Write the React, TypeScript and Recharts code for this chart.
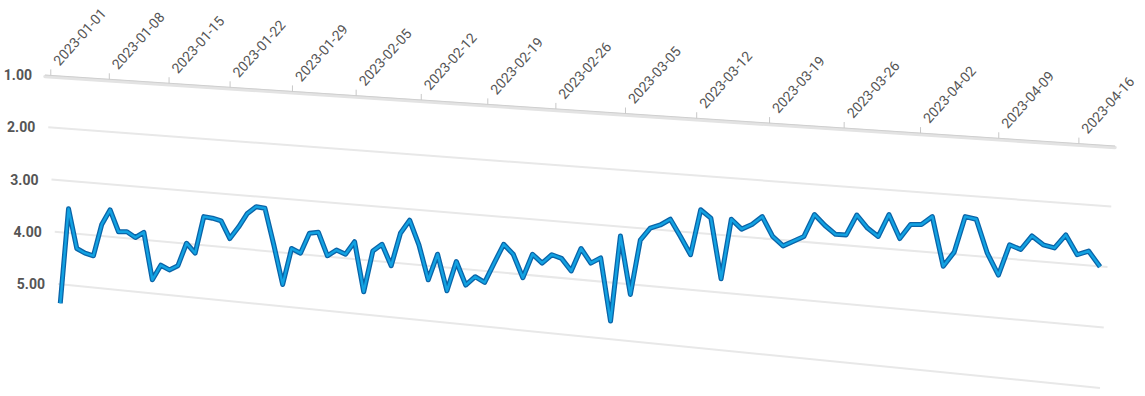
import React from 'react';
import { LineChart, Line, XAxis, YAxis, CartesianGrid } from 'recharts';

// ---------------- data ----------------
const START_DATE = '2023-01-01';
const values: number[] = [
  5.37, 3.56, 4.32, 4.41, 4.46, 3.86, 3.58, 4.0, 4.0, 4.11,
  4.01, 4.92, 4.64, 4.73, 4.65, 4.22, 4.41, 3.71, 3.74, 3.79,
  4.13, 3.91, 3.65, 3.52, 3.55, 4.25, 5.01, 4.32, 4.41, 4.03,
  4.01, 4.46, 4.35, 4.43, 4.19, 5.15, 4.37, 4.24, 4.65, 4.03,
  3.78, 4.25, 4.92, 4.43, 5.13, 4.57, 5.02, 4.86, 4.97, 4.6,
  4.24, 4.43, 4.88, 4.43, 4.6, 4.44, 4.51, 4.75, 4.32, 4.6,
  4.5, 5.71, 4.08, 5.2, 4.16, 3.93, 3.87, 3.76, 4.09, 4.44,
  3.58, 3.74, 4.9, 3.76, 3.95, 3.86, 3.71, 4.09, 4.27, 4.18,
  4.09, 3.67, 3.88, 4.05, 4.06, 3.68, 3.93, 4.09, 3.67, 4.13,
  3.86, 3.86, 3.71, 4.66, 4.39, 3.71, 3.76, 4.41, 4.83, 4.25,
  4.34, 4.08, 4.25, 4.31, 4.06, 4.44, 4.37, 4.67,
];
const tickDates: string[] = [
  '2023-01-01', '2023-01-08', '2023-01-15', '2023-01-22', '2023-01-29',
  '2023-02-05', '2023-02-12', '2023-02-19', '2023-02-26', '2023-03-05',
  '2023-03-12', '2023-03-19', '2023-03-26', '2023-04-02', '2023-04-09',
  '2023-04-16',
];
const yTicks: number[] = [1, 2, 3, 4, 5];

const DAY_MS = 86400000;
const startMs = Date.parse(START_DATE);
const fmt = (day: number) => new Date(startMs + day * DAY_MS).toISOString().slice(0, 10);
const toDay = (d: string) => Math.round((Date.parse(d) - startMs) / DAY_MS);
const dates = values.map((_, i) => fmt(i));
const data = dates.map((d, i) => ({ date: d, day: toDay(d), v: values[i] }));
const tickDays = tickDates.map(toDay);

// ---------------- layout ----------------
const W = 1145;
const H = 396;
const PLOT_L = 45;
const PLOT_R = 1115;
const PLOT_T = 75;
const PLANE_H = 209; // pixel height of the value 1..5 band on the left edge
// perspective of the floor plane (grid rows)
const DROP = 71; // right end of the top row sits this much lower
const RS = 242 / PLANE_H; // vertical stretch on the right edge
const LX = 13 / PLANE_H; // left edge slant
const RX = -15 / PLANE_H; // right edge slant

// perspective (linear fractional) scale usable as a Recharts custom scale
function perspScale(c: number): any {
  let dom: number[] = [0, 1];
  let rng: number[] = [0, 1];
  const s: any = (v: number) => {
    const u = (Number(v) - dom[0]) / (dom[1] - dom[0]);
    const f = u / (1 + c * (1 - u));
    return rng[0] + (rng[1] - rng[0]) * f;
  };
  s.domain = (d?: any) => {
    if (d === undefined) return dom.slice();
    dom = [Number(d[0]), Number(d[d.length - 1])];
    return s;
  };
  s.range = (r?: any) => {
    if (r === undefined) return rng.slice();
    rng = [Number(r[0]), Number(r[r.length - 1])];
    return s;
  };
  s.invert = (x: number) => {
    const f = (x - rng[0]) / (rng[1] - rng[0]);
    const u = (f * (1 + c)) / (1 + c * f);
    return dom[0] + u * (dom[1] - dom[0]);
  };
  s.ticks = (n = 10) => {
    const out: number[] = [];
    const step = (dom[1] - dom[0]) / n;
    for (let i = 0; i <= n; i++) out.push(dom[0] + i * step);
    return out;
  };
  s.tickFormat = () => (v: any) => String(v);
  s.nice = () => s;
  s.clamp = () => s;
  s.copy = () => perspScale(c).domain(dom).range(rng);
  return s;
}

const dataScale = perspScale(0.1855);
const tickScale = perspScale(0.1911);

const topRowY = (x: number) => PLOT_T + (DROP * (x - PLOT_L)) / (PLOT_R - PLOT_L);

const renderRow = (p: any) => {
  const t = p.y1 - PLOT_T;
  if (t > PLANE_H + 1 || t < -1) return <g key={p.key} />;
  const x1 = p.x1 + LX * t;
  const y1 = p.y1;
  const x2 = p.x2 + RX * t;
  const y2 = PLOT_T + DROP + RS * t;
  if (Math.abs(t) < 0.5) {
    return (
      <g key={p.key}>
        <line x1={x1} y1={y1 + 1.5} x2={x2} y2={y2 + 1.5} stroke="#e3e3e3" strokeWidth={3.5} strokeLinecap="round" />
        <line x1={x1} y1={y1} x2={x2} y2={y2} stroke="#cfcfcf" strokeWidth={1} />
      </g>
    );
  }
  return <line key={p.key} x1={x1} y1={y1} x2={x2} y2={y2} stroke="#e8e8e8" strokeWidth={2} />;
};

const XTick = (props: any) => {
  const { x, payload } = props;
  const ry = topRowY(x);
  const tx = x + 9;
  const ty = ry - 9;
  return (
    <g>
      <line x1={x} y1={ry - 6} x2={x} y2={ry} stroke="#c8c8c8" strokeWidth={1} />
      <text
        x={tx}
        y={ty}
        transform={`rotate(-48, ${tx}, ${ty})`}
        textAnchor="start"
        fill="#555"
        fontSize={14}
        fontWeight={400}
        fontFamily="Roboto, sans-serif"
      >
        {fmt(payload.value)}
      </text>
    </g>
  );
};

const YTick = (props: any) => {
  const { y, payload } = props;
  const t = y - PLOT_T;
  const xl = PLOT_L + LX * t;
  return (
    <text
      x={xl - 13}
      y={y + 5}
      textAnchor="end"
      fill="#555"
      fontSize={14}
      fontWeight={700}
      fontFamily="Roboto, sans-serif"
    >
      {Number(payload.value).toFixed(2)}
    </text>
  );
};

export default function App() {
  return (
    <div style={{ position: 'absolute', left: 0, top: 0, width: W, height: H, background: '#fff' }}>
      <LineChart
        width={W}
        height={H}
        data={data}
        margin={{ top: 45, right: W - PLOT_R, bottom: 59.75, left: 0 }}
      >
        <CartesianGrid vertical={false} horizontal={renderRow} horizontalValues={yTicks} xAxisId="t" />
        <XAxis
          xAxisId="t"
          dataKey="day"
          type="number"
          orientation="top"
          height={30}
          scale={tickScale}
          domain={[-0.7, 108.1]}
          allowDataOverflow
          ticks={tickDays}
          interval={0}
          axisLine={false}
          tickLine={false}
          tick={<XTick />}
        />
        <XAxis
          xAxisId="d"
          dataKey="day"
          type="number"
          scale={dataScale}
          domain={[-1.86, 108.3]}
          allowDataOverflow
          hide
        />
        <YAxis
          type="number"
          width={PLOT_L}
          domain={[1, 6]}
          ticks={yTicks}
          reversed
          allowDataOverflow
          axisLine={false}
          tickLine={false}
          tick={<YTick />}
          interval={0}
        />
        <Line
          xAxisId="d"
          dataKey="v"
          type="linear"
          stroke="#0a64a8"
          strokeWidth={5}
          dot={false}
          activeDot={false}
          isAnimationActive={false}
          strokeLinejoin="round"
        />
        <Line
          xAxisId="d"
          dataKey="v"
          type="linear"
          stroke="#12a2e2"
          strokeWidth={2.4}
          dot={false}
          activeDot={false}
          isAnimationActive={false}
          strokeLinejoin="round"
        />
      </LineChart>
    </div>
  );
}
